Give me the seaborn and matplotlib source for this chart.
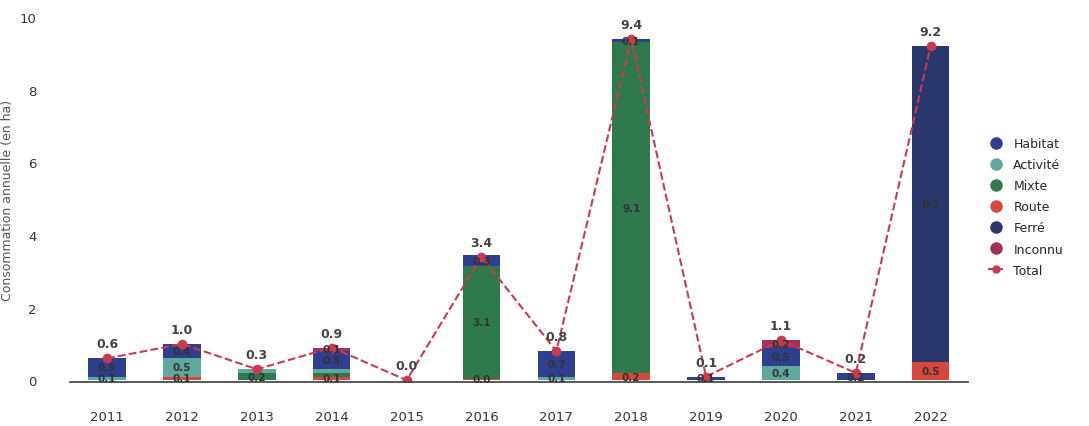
import numpy as np
import pandas as pd
import matplotlib
matplotlib.use("Agg")
import matplotlib.pyplot as plt
from matplotlib.lines import Line2D
import seaborn as sns

# ---- data ----
years = ["2011", "2012", "2013", "2014", "2015", "2016",
         "2017", "2018", "2019", "2020", "2021", "2022"]
habitat  = [0.5, 0.4, 0.0, 0.5, 0.0, 0.3, 0.7, 0.1, 0.1, 0.5, 0.2, 0.0]
activite = [0.1, 0.5, 0.1, 0.1, 0.0, 0.0, 0.1, 0.0, 0.0, 0.4, 0.0, 0.0]
mixte    = [0.0, 0.0, 0.2, 0.1, 0.0, 3.1, 0.0, 9.1, 0.0, 0.0, 0.0, 0.0]
route    = [0.0, 0.1, 0.0, 0.1, 0.0, 0.04, 0.0, 0.2, 0.0, 0.0, 0.0, 0.5]
ferre    = [0.0, 0.0, 0.0, 0.0, 0.0, 0.0, 0.0, 0.0, 0.0, 0.0, 0.0, 8.7]
inconnu  = [0.0, 0.0, 0.0, 0.1, 0.0, 0.0, 0.0, 0.0, 0.0, 0.2, 0.0, 0.0]
total    = [0.6, 1.0, 0.3, 0.9, 0.0, 3.4, 0.8, 9.4, 0.1, 1.1, 0.2, 9.2]

legend_order = ["Habitat", "Activité", "Mixte", "Route", "Ferré", "Inconnu"]
colors = {"Habitat": "#2f3f8f", "Activité": "#5fa89e", "Mixte": "#2f7a4c",
          "Route": "#d9473c", "Ferré": "#2a376c", "Inconnu": "#a3305c"}
line_color = "#cc3a50"

# stacking order, bottom to top
stack = [("Route", route), ("Ferré", ferre), ("Mixte", mixte),
         ("Activité", activite), ("Habitat", habitat), ("Inconnu", inconnu)]

sns.set_theme(style="white")
plt.rcParams["font.family"] = ["DejaVu Sans"]

fig = plt.figure(figsize=(10.89, 4.27), dpi=100)
ax = fig.add_axes([0.064, 0.103, 0.825, 0.855])

df = pd.DataFrame({"year": years})
bottom = np.zeros(len(years))
last_label = np.full(len(years), -10.0)
for name, vals in stack:
    vals = np.array(vals)
    sns.barplot(x=df["year"], y=vals, bottom=bottom, color=colors[name],
                width=0.5, ax=ax, saturation=1, linewidth=0)
    for i, v in enumerate(vals):
        ypos = bottom[i] + v / 2
        # skip labels that would sit on top of the previous one
        if v > 0 and ypos - last_label[i] >= 0.3:
            ax.text(i, ypos, f"{v:.1f}", ha="center", va="center",
                    fontsize=7.5, fontweight="bold", color="#333333")
            last_label[i] = ypos
    bottom = bottom + vals

# total line
sns.lineplot(x=np.arange(len(years)), y=total, ax=ax, color=line_color,
             linestyle="--", marker="o", markersize=7, linewidth=1.5,
             markeredgewidth=0)
for i, t in enumerate(total):
    ax.text(i, t + 0.22, f"{t:.1f}", ha="center", va="bottom",
            fontsize=9, fontweight="bold", color="#444444")

ax.set_xlim(-0.5, len(years) - 0.5)
ax.set_ylim(-0.05, 10)
ax.set_yticks([0, 2, 4, 6, 8, 10])
ax.set_ylabel("Consommation annuelle (en ha)", fontsize=9, color="#555555")
ax.set_xlabel("")
ax.tick_params(axis="x", pad=14, labelsize=9.5, colors="#333333")
ax.tick_params(axis="y", labelsize=9.5, colors="#333333", pad=18)
for s in ["top", "right", "left"]:
    ax.spines[s].set_visible(False)
ax.spines["bottom"].set_color("#444444")

handles = [Line2D([0], [0], marker="o", color="none", markerfacecolor=colors[n],
                  markeredgewidth=0, markersize=9, label=n) for n in legend_order]
handles.append(Line2D([0], [0], color=line_color, linestyle="--", marker="o",
                      markersize=5, label="Total"))
ax.legend(handles=handles, loc="center left", bbox_to_anchor=(1.01, 0.48),
          frameon=False, fontsize=9, handlelength=1.2, labelspacing=0.65)

fig.savefig("out.png", dpi=100)
